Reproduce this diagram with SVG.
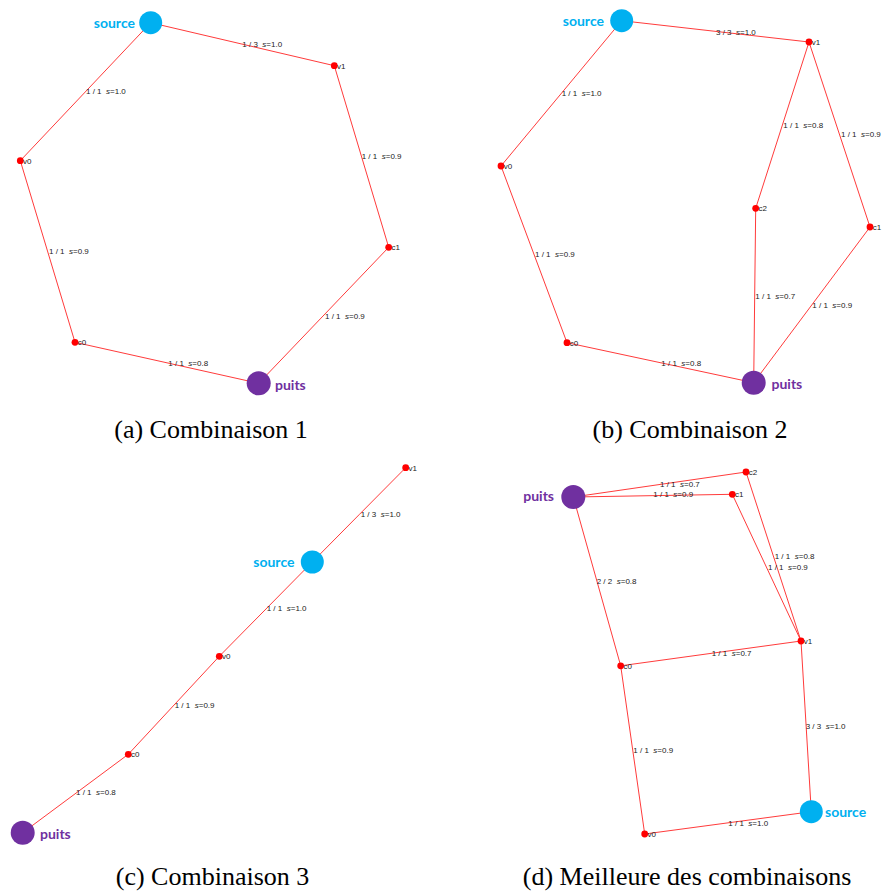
<svg xmlns="http://www.w3.org/2000/svg" width="882" height="895" viewBox="0 0 882 895">
<style>
.bg{fill:#fff}
.edge path{stroke:#ff3b3b;stroke-width:1;fill:none}
.dot{fill:#ff0000}
.src{fill:#00b0f0}
.snk{fill:#7030a0}
.el{font-family:"Liberation Sans",Arial,sans-serif;font-size:8px;fill:#222;white-space:pre}
.nl{font-family:"Liberation Sans",Arial,sans-serif;font-size:8px;fill:#222}
.srcl{font-family:Lato,"Open Sans",sans-serif;font-weight:bold;font-size:14px;fill:#00b0f0}
.snkl{font-family:Lato,"Open Sans",sans-serif;font-weight:bold;font-size:14px;fill:#7030a0}
.cap{font-family:"Liberation Serif","Times New Roman",serif;font-size:26px;fill:#000;text-anchor:middle}
.it{font-style:italic}
</style>
<rect class="bg" x="0" y="0" width="882" height="895"/>

<!-- Panel (a) -->
<g id="a-connectors" class="edge">
<path d="M150.7 22.7L334.3 65.7"/>
<path d="M150.7 22.7L20.3 160.7"/>
<path d="M334.3 65.7L388.7 247.3"/>
<path d="M20.3 160.7L75 342.3"/>
<path d="M75 342.3L258.7 383.3"/>
<path d="M388.7 247.3L258.7 383.3"/>
</g>
<g id="a-edge-labels">
<text class="el" x="242.3" y="46.5">1 / 3  <tspan class="it">s</tspan>=1.0</text>
<text class="el" x="86" y="93.5">1 / 1  <tspan class="it">s</tspan>=1.0</text>
<text class="el" x="361.7" y="158.5">1 / 1  <tspan class="it">s</tspan>=0.9</text>
<text class="el" x="49" y="253.8">1 / 1  <tspan class="it">s</tspan>=0.9</text>
<text class="el" x="168.3" y="366">1 / 1  <tspan class="it">s</tspan>=0.8</text>
<text class="el" x="325" y="318.8">1 / 1  <tspan class="it">s</tspan>=0.9</text>
</g>
<g id="a-source"><circle class="src" cx="150.7" cy="22.7" r="11.5"/><text class="srcl" x="135" y="27.5" text-anchor="end">source</text></g>
<g id="a-v1"><circle class="dot" cx="334.3" cy="65.7" r="3.4"/><text class="nl" x="337" y="68.6">v1</text></g>
<g id="a-v0"><circle class="dot" cx="20.3" cy="160.7" r="3.4"/><text class="nl" x="23" y="163.6">v0</text></g>
<g id="a-c1"><circle class="dot" cx="388.7" cy="247.3" r="3.4"/><text class="nl" x="391.4" y="250.2">c1</text></g>
<g id="a-c0"><circle class="dot" cx="75" cy="342.3" r="3.4"/><text class="nl" x="77.7" y="345.2">c0</text></g>
<g id="a-puits"><circle class="snk" cx="258.7" cy="383.3" r="12"/><text class="snkl" x="275" y="389.5">puits</text></g>
<text class="cap" x="211" y="438">(a) Combinaison 1</text>

<!-- Panel (b) -->
<g id="b-connectors" class="edge">
<path d="M621.7 20.7L809 42"/>
<path d="M621.7 20.7L501 166"/>
<path d="M809 42L755.7 208.3"/>
<path d="M809 42L870 227"/>
<path d="M501 166L567 342.7"/>
<path d="M755.7 208.3L753.7 382.7"/>
<path d="M870 227L753.7 382.7"/>
<path d="M567 342.7L753.7 382.7"/>
</g>
<g id="b-edge-labels">
<text class="el" x="716" y="34.5">3 / 3  <tspan class="it">s</tspan>=1.0</text>
<text class="el" x="561.7" y="95.8">1 / 1  <tspan class="it">s</tspan>=1.0</text>
<text class="el" x="783.3" y="127.8">1 / 1  <tspan class="it">s</tspan>=0.8</text>
<text class="el" x="841" y="137">1 / 1  <tspan class="it">s</tspan>=0.9</text>
<text class="el" x="535" y="257">1 / 1  <tspan class="it">s</tspan>=0.9</text>
<text class="el" x="755.3" y="298.8">1 / 1  <tspan class="it">s</tspan>=0.7</text>
<text class="el" x="812.3" y="308">1 / 1  <tspan class="it">s</tspan>=0.9</text>
<text class="el" x="661.3" y="366">1 / 1  <tspan class="it">s</tspan>=0.8</text>
</g>
<g id="b-source"><circle class="src" cx="621.7" cy="20.7" r="11.5"/><text class="srcl" x="604" y="26" text-anchor="end">source</text></g>
<g id="b-v1"><circle class="dot" cx="809" cy="42" r="3.4"/><text class="nl" x="811.7" y="44.9">v1</text></g>
<g id="b-v0"><circle class="dot" cx="501" cy="166" r="3.4"/><text class="nl" x="503.7" y="168.9">v0</text></g>
<g id="b-c2"><circle class="dot" cx="755.7" cy="208.3" r="3.4"/><text class="nl" x="758.4" y="211.2">c2</text></g>
<g id="b-c1"><circle class="dot" cx="870" cy="227" r="3.4"/><text class="nl" x="872.7" y="229.9">c1</text></g>
<g id="b-c0"><circle class="dot" cx="567" cy="342.7" r="3.4"/><text class="nl" x="569.7" y="345.6">c0</text></g>
<g id="b-puits"><circle class="snk" cx="753.7" cy="382.7" r="12"/><text class="snkl" x="771.5" y="389">puits</text></g>
<text class="cap" x="690" y="438">(b) Combinaison 2</text>

<!-- Panel (c) -->
<g id="c-connectors" class="edge">
<path d="M312.3 562L359 514.8L405.7 467.7" stroke="#ff3b3b" stroke-width="1.05"/>
<path d="M312.3 562L219.3 656.3"/>
<path d="M219.3 656.3L128.3 754.3"/>
<path d="M128.3 754.3L22.7 832.7"/>
</g>
<g id="c-edge-labels">
<text class="el" x="360.7" y="516.8">1 / 3  <tspan class="it">s</tspan>=1.0</text>
<text class="el" x="266.7" y="610.8">1 / 1  <tspan class="it">s</tspan>=1.0</text>
<text class="el" x="174.7" y="707.8">1 / 1  <tspan class="it">s</tspan>=0.9</text>
<text class="el" x="76" y="795">1 / 1  <tspan class="it">s</tspan>=0.8</text>
</g>
<g id="c-v1"><circle class="dot" cx="405.7" cy="467.7" r="3.4"/><text class="nl" x="408.4" y="470.6">v1</text></g>
<g id="c-source"><circle class="src" cx="312.3" cy="562" r="11.5"/><text class="srcl" x="294.5" y="567.3" text-anchor="end">source</text></g>
<g id="c-v0"><circle class="dot" cx="219.3" cy="656.3" r="3.4"/><text class="nl" x="222" y="659.2">v0</text></g>
<g id="c-c0"><circle class="dot" cx="128.3" cy="754.3" r="3.4"/><text class="nl" x="131" y="757.2">c0</text></g>
<g id="c-puits"><circle class="snk" cx="22.7" cy="832.7" r="12"/><text class="snkl" x="40" y="838.5">puits</text></g>
<text class="cap" x="212.5" y="885">(c) Combinaison 3</text>

<!-- Panel (d) -->
<g id="d-connectors" class="edge">
<path d="M573.3 497L746 472"/>
<path d="M573.3 497L732.3 494.3"/>
<path d="M746 472L801 641"/>
<path d="M732.3 494.3L801 641"/>
<path d="M573.3 497L620.7 665.8"/>
<path d="M620.7 665.8L801 641"/>
<path d="M620.7 665.8L644.7 834"/>
<path d="M801 641L811.3 811.7"/>
<path d="M644.7 834L811.3 811.7"/>
</g>
<g id="d-edge-labels">
<text class="el" x="660" y="486.5">1 / 1  <tspan class="it">s</tspan>=0.7</text>
<text class="el" x="653.3" y="497">1 / 1  <tspan class="it">s</tspan>=0.9</text>
<text class="el" x="774.7" y="559">1 / 1  <tspan class="it">s</tspan>=0.8</text>
<text class="el" x="768" y="569.8">1 / 1  <tspan class="it">s</tspan>=0.9</text>
<text class="el" x="596.7" y="583.5">2 / 2  <tspan class="it">s</tspan>=0.8</text>
<text class="el" x="711.7" y="656">1 / 1  <tspan class="it">s</tspan>=0.7</text>
<text class="el" x="633.3" y="752.8">1 / 1  <tspan class="it">s</tspan>=0.9</text>
<text class="el" x="805.7" y="729">3 / 3  <tspan class="it">s</tspan>=1.0</text>
<text class="el" x="728.3" y="825.8">1 / 1  <tspan class="it">s</tspan>=1.0</text>
</g>
<g id="d-puits"><circle class="snk" cx="573.3" cy="497" r="12"/><text class="snkl" x="554" y="501" text-anchor="end">puits</text></g>
<g id="d-c2"><circle class="dot" cx="746" cy="472" r="3.4"/><text class="nl" x="748.7" y="474.9">c2</text></g>
<g id="d-c1"><circle class="dot" cx="732.3" cy="494.3" r="3.4"/><text class="nl" x="735" y="497.2">c1</text></g>
<g id="d-v1"><circle class="dot" cx="801" cy="641" r="3.4"/><text class="nl" x="803.7" y="643.9">v1</text></g>
<g id="d-c0"><circle class="dot" cx="620.7" cy="665.8" r="3.4"/><text class="nl" x="623.4" y="668.7">c0</text></g>
<g id="d-v0"><circle class="dot" cx="644.7" cy="834" r="3.4"/><text class="nl" x="647.4" y="836.9">v0</text></g>
<g id="d-source"><circle class="src" cx="811.3" cy="811.7" r="11.5"/><text class="srcl" x="825" y="816.8">source</text></g>
<text class="cap" x="687" y="885">(d) Meilleure des combinaisons</text>
</svg>
